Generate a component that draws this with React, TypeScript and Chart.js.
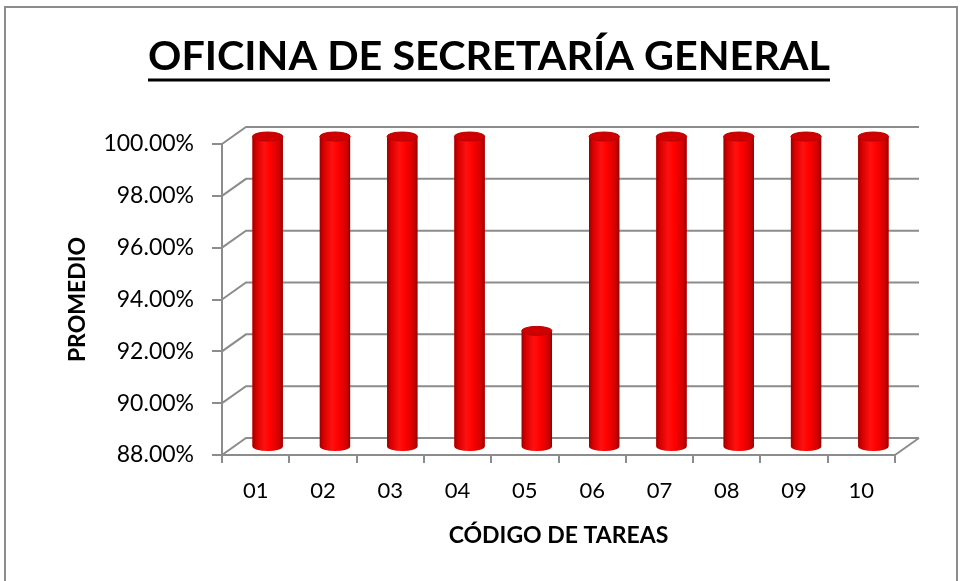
import React, { useEffect, useRef } from 'react';
import { Chart, registerables } from 'chart.js';

Chart.register(...registerables);

const chartTitle = 'OFICINA DE SECRETARÍA GENERAL';
const yAxisTitle = 'PROMEDIO';
const xAxisTitle = 'CÓDIGO DE TAREAS';
const categories = ['01', '02', '03', '04', '05', '06', '07', '08', '09', '10'];
const promedio = [100, 100, 100, 100, 92.5, 100, 100, 100, 100, 100];
const yMin = 88;
const yMax = 100;
const yStep = 2;

const FONT = 'Lato';
const GRID = '#8c8c8c';
const DEPTH = { dx: 24, dy: -17 };
const BAR_SHIFT = { dx: 12, dy: -7.5 };
const CAP_RY = 4.5;

const threeD = {
  id: 'threeD',
  beforeDatasetsDraw(chart: any) {
    const { ctx, chartArea: a, scales } = chart;
    const y = scales.y;
    ctx.save();
    ctx.strokeStyle = GRID;
    ctx.lineWidth = 2;
    y.ticks.forEach((t: any) => {
      const py = y.getPixelForValue(t.value);
      ctx.beginPath();
      ctx.moveTo(a.left, py);
      ctx.lineTo(a.left + DEPTH.dx, py + DEPTH.dy);
      ctx.lineTo(a.right + DEPTH.dx, py + DEPTH.dy);
      ctx.stroke();
    });
    ctx.beginPath();
    ctx.moveTo(a.right, a.bottom);
    ctx.lineTo(a.right + DEPTH.dx, a.bottom + DEPTH.dy);
    ctx.stroke();
    ctx.restore();
    ctx.save();
    ctx.translate(BAR_SHIFT.dx, BAR_SHIFT.dy);
  },
  afterDatasetsDraw(chart: any) {
    const { ctx } = chart;
    const meta = chart.getDatasetMeta(0);
    meta.data.forEach((el: any) => {
      const { x, y, base, width } = el.getProps(['x', 'y', 'base', 'width'], true);
      const l = x - width / 2;
      const r = x + width / 2;
      const g = ctx.createLinearGradient(l, 0, r, 0);
      g.addColorStop(0, '#9a0000');
      g.addColorStop(0.12, '#d60000');
      g.addColorStop(0.4, '#ff1010');
      g.addColorStop(0.6, '#ff0000');
      g.addColorStop(0.88, '#d20000');
      g.addColorStop(1, '#900000');
      ctx.beginPath();
      ctx.moveTo(l, y);
      ctx.lineTo(l, base);
      ctx.ellipse(x, base, width / 2, CAP_RY, 0, Math.PI, 0, true);
      ctx.lineTo(r, y);
      ctx.closePath();
      ctx.fillStyle = g;
      ctx.fill();
      ctx.beginPath();
      ctx.ellipse(x, y, width / 2, CAP_RY, 0, 0, Math.PI * 2);
      ctx.fillStyle = '#d00000';
      ctx.fill();
      ctx.lineWidth = 1;
      ctx.strokeStyle = '#b80000';
      ctx.stroke();
    });
    ctx.restore();
  },
  afterDraw(chart: any) {
    const { ctx } = chart;
    ctx.save();
    ctx.font = `bold 40px ${FONT}`;
    const w = ctx.measureText(chartTitle).width;
    const target = 682;
    const cx = 489;
    ctx.fillStyle = '#000';
    ctx.textAlign = 'center';
    ctx.textBaseline = 'alphabetic';
    ctx.translate(cx, 70);
    ctx.scale(target / w, 1);
    ctx.fillText(chartTitle, 0, 0);
    ctx.restore();
    ctx.save();
    ctx.strokeStyle = '#000';
    ctx.lineWidth = 3;
    ctx.beginPath();
    ctx.moveTo(cx - target / 2, 80);
    ctx.lineTo(cx + target / 2, 80);
    ctx.stroke();
    ctx.restore();
  },
};

export default function App() {
  const ref = useRef<HTMLCanvasElement>(null);
  useEffect(() => {
    if (!ref.current) return;
    const chart = new Chart(ref.current, {
      type: 'bar',
      data: {
        labels: categories,
        datasets: [
          {
            label: yAxisTitle,
            data: promedio,
            base: yMin,
            backgroundColor: '#ff0000',
            borderWidth: 0,
            barPercentage: 0.45,
            categoryPercentage: 1,
            clip: false as any,
          } as any,
        ],
      },
      options: {
        responsive: false,
        animation: false,
        layout: { padding: { top: 144, right: 67, left: 0, bottom: 0 } },
        plugins: { legend: { display: false }, tooltip: { enabled: false }, title: { display: false } },
        scales: {
          x: {
            offset: true,
            grid: { offset: true, drawOnChartArea: false, drawTicks: true, tickLength: 8, color: GRID, lineWidth: 2 },
            border: { display: true, color: GRID, width: 2 },
            ticks: { font: { family: FONT, size: 22 }, color: '#000', padding: 15, maxRotation: 0 },
            title: {
              display: true,
              text: xAxisTitle,
              color: '#000',
              font: { family: FONT, size: 23, weight: 'bold' },
              padding: { top: 0, bottom: 32 },
            },
            afterFit: (s: any) => {
              s.height = 126;
            },
          },
          y: {
            min: yMin,
            max: yMax,
            grid: { drawOnChartArea: false, drawTicks: true, tickLength: 10, color: GRID, lineWidth: 2 },
            border: { display: true, color: GRID, width: 2 },
            ticks: {
              stepSize: yStep,
              font: { family: FONT, size: 23 },
              color: '#000',
              padding: 18,
              callback: (v: any) => Number(v).toFixed(2) + '%',
            },
            title: {
              display: true,
              text: yAxisTitle,
              color: '#000',
              font: { family: FONT, size: 23, weight: 'bold' },
              padding: { top: 64, bottom: 0 },
            },
            afterFit: (s: any) => {
              s.width = 222;
            },
          },
        },
      },
      plugins: [threeD],
    });
    return () => chart.destroy();
  }, []);
  return (
    <div style={{ position: 'fixed', left: 0, top: 0, width: 962, height: 581, background: '#fff', overflow: 'hidden' }}>
      <canvas ref={ref} width={962} height={581} style={{ display: 'block' }} />
      <div
        style={{
          position: 'absolute',
          left: 4,
          top: 6,
          width: 950,
          height: 640,
          border: '2px solid #8c8c8c',
          pointerEvents: 'none',
        }}
      />
    </div>
  );
}
